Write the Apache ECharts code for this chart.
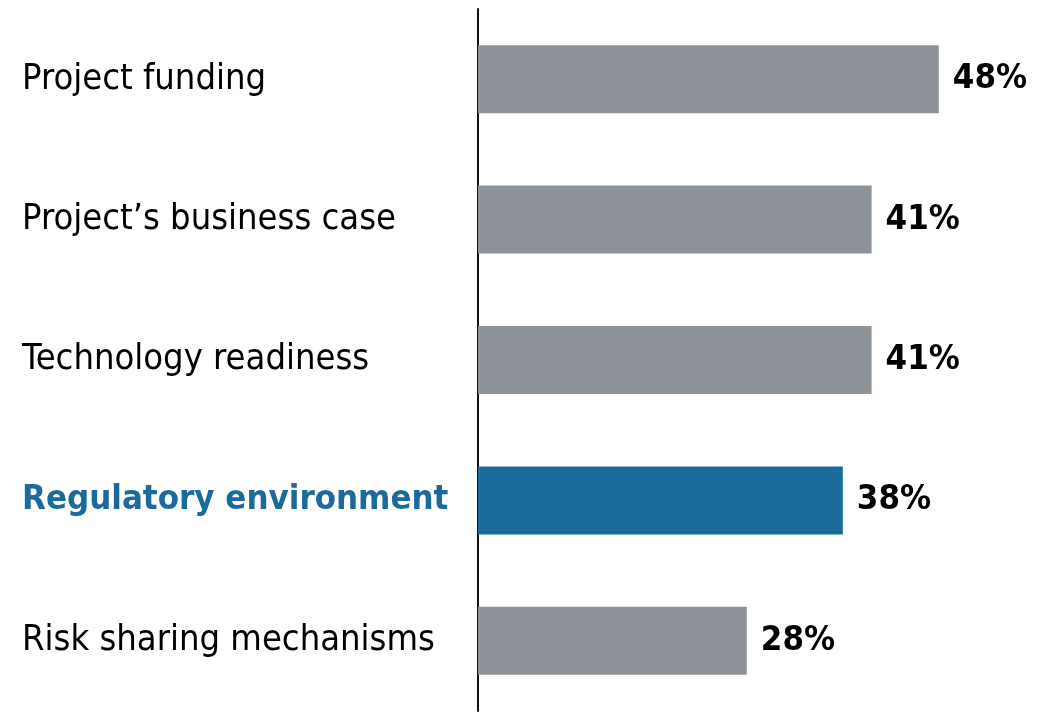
<!DOCTYPE html>
<html>
<head>
<meta charset="utf-8">
<script src="https://cdn.jsdelivr.net/npm/echarts@6/dist/echarts.min.js"></script>
<style>
  html, body { margin: 0; padding: 0; background: #fff; }
  #main { width: 1038px; height: 713px; }
</style>
</head>
<body>
<div id="main"></div>
<script>
    "use strict";

    var categories = ["Project funding", "Project\u2019s business case", "Technology readiness", "Regulatory environment", "Risk sharing mechanisms"];
    var shares = [48, 41, 41, 38, 28];
    var highlight = "Regulatory environment";

    var GREY = "#8e9299";
    var BLUE = "#1a6b9b";
    var FONT = "'DejaVu Sans Condensed', 'Liberation Sans Narrow', sans-serif";

    var myChart = echarts.init(document.getElementById('main'));

    var option = {
        animation: false,
        grid: { left: 478, top: 9, width: 480, height: 702, outerBoundsMode: 'none', containLabel: false },
        xAxis: {
            type: 'value',
            min: 0,
            max: 50,
            show: false
        },
        yAxis: {
            type: 'category',
            inverse: true,
            data: categories.map(function (c) {
                if (c === highlight) {
                    return { value: c, textStyle: { color: BLUE, fontWeight: 'bold', align: 'left', fontSize: 34.5 } };
                }
                return c;
            }),
            axisLine: { show: true, lineStyle: { color: '#111', width: 2 } },
            axisTick: { show: false },
            axisLabel: {
                align: 'left',
                margin: 456,
                fontFamily: FONT,
                fontSize: 36,
                color: '#000'
            }
        },
        series: [{
            type: 'bar',
            barWidth: 68,
            data: shares.map(function (v, i) {
                return {
                    value: v,
                    itemStyle: { color: categories[i] === highlight ? BLUE : GREY }
                };
            }),
            label: {
                show: true,
                position: 'right',
                distance: 14,
                formatter: '{c}%',
                fontFamily: FONT,
                fontSize: 34.5,
                fontWeight: 'bold',
                color: '#000'
            }
        }]
    };

    myChart.setOption(option);
</script>
</body>
</html>
